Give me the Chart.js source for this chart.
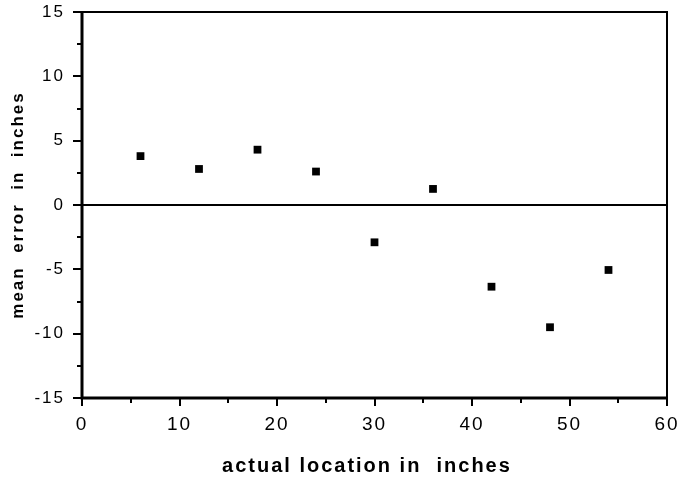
<!DOCTYPE html>
<html>
<head>
<meta charset="utf-8">
<script src="https://cdn.jsdelivr.net/npm/chart.js@4"></script>
<style>
  html, body { margin: 0; padding: 0; background: #fff; }
  #wrap { width: 680px; height: 478px; }
</style>
</head>
<body>
<div id="wrap"><canvas id="myChart"></canvas></div>
<script>
// values
const locations = [6, 12, 18, 24, 30, 36, 42, 48, 54];
const meanErrors = [3.8, 2.8, 4.3, 2.6, -2.9, 1.25, -6.35, -9.5, -5.05];
const xTickLabels = [0, 10, 20, 30, 40, 50, 60];
const yTickLabels = [-15, -10, -5, 0, 5, 10, 15];

const points = locations.map((x, i) => ({ x: x, y: meanErrors[i] }));

// spaced-out lettering like the old plot
function spacing(chart) {
  chart.ctx.letterSpacing = '2px';
}

const frameAndTicks = {
  id: 'frameAndTicks',
  beforeUpdate: spacing,
  beforeLayout: spacing,
  beforeDraw: spacing,
  afterDraw(chart) {
    const ctx = chart.ctx;
    const a = chart.chartArea;
    const xs = chart.scales.x;
    const ys = chart.scales.y;
    ctx.save();
    ctx.strokeStyle = '#000';
    ctx.lineCap = 'butt';

    // tick marks, outward, long at labelled values
    ctx.lineWidth = 2;
    for (let v = 0; v <= 60; v += 5) {
      const px = Math.round(xs.getPixelForValue(v));
      const len = xTickLabels.includes(v) ? 8 : 5;
      ctx.beginPath();
      ctx.moveTo(px, a.bottom);
      ctx.lineTo(px, a.bottom + len);
      ctx.stroke();
    }
    for (let v = -15; v <= 15; v += 2.5) {
      const py = Math.round(ys.getPixelForValue(v));
      const len = yTickLabels.includes(v) ? 9 : 5;
      ctx.beginPath();
      ctx.moveTo(a.left, py);
      ctx.lineTo(a.left - len, py);
      ctx.stroke();
    }

    // frame
    ctx.lineWidth = 2;
    ctx.beginPath();
    ctx.moveTo(a.left, a.top);
    ctx.lineTo(a.right, a.top);
    ctx.lineTo(a.right, a.bottom);
    ctx.stroke();
    ctx.lineWidth = 3;
    ctx.beginPath();
    ctx.moveTo(a.left, a.top - 1);
    ctx.lineTo(a.left, a.bottom);
    ctx.lineTo(a.right + 1, a.bottom);
    ctx.stroke();
    ctx.restore();
  }
};

const ctx = document.getElementById('myChart');
new Chart(ctx, {
  type: 'scatter',
  data: {
    datasets: [{
      data: points,
      pointStyle: 'rect',
      pointRadius: 5.5,
      pointHoverRadius: 5.5,
      backgroundColor: '#000',
      borderWidth: 0
    }]
  },
  options: {
    responsive: true,
    maintainAspectRatio: false,
    animation: false,
    layout: { padding: 0 },
    plugins: {
      legend: { display: false },
      tooltip: { enabled: false }
    },
    scales: {
      x: {
        type: 'linear',
        min: 0,
        max: 60,
        border: { display: false },
        grid: { display: false, drawTicks: false },
        afterFit(scale) {
          scale.height = 80;
          scale.paddingLeft = 0;
          scale.paddingRight = 13;
        },
        ticks: {
          stepSize: 5,
          autoSkip: false,
          maxRotation: 0,
          padding: 15,
          color: '#000',
          font: { family: 'Liberation Sans', size: 19 },
          callback: v => xTickLabels.includes(v) ? String(v) : ''
        },
        title: {
          display: true,
          // trailing spaces nudge the centred title a little left, as in the original
          text: 'actual location in  inches  ',
          color: '#000',
          font: { family: 'Liberation Sans', size: 20, weight: 'bold' },
          padding: { top: 0, bottom: 0 }
        }
      },
      y: {
        type: 'linear',
        min: -15,
        max: 15,
        border: { display: false },
        grid: {
          drawTicks: false,
          lineWidth: 2,
          color: c => c.tick && c.tick.value === 0 ? '#000' : 'rgba(0,0,0,0)'
        },
        afterFit(scale) {
          scale.width = 82;
          scale.paddingTop = 12;
          scale.paddingBottom = 0;
        },
        ticks: {
          stepSize: 2.5,
          autoSkip: false,
          padding: 17,
          color: '#000',
          font: { family: 'Liberation Sans', size: 17 },
          callback: v => yTickLabels.includes(v) ? String(v) : ''
        },
        title: {
          display: true,
          text: 'mean  error  in  inches',
          color: '#000',
          font: { family: 'Liberation Sans', size: 17, weight: 'bold' },
          padding: { top: 8, bottom: 0 }
        }
      }
    }
  },
  plugins: [frameAndTicks]
});
</script>
</body>
</html>
